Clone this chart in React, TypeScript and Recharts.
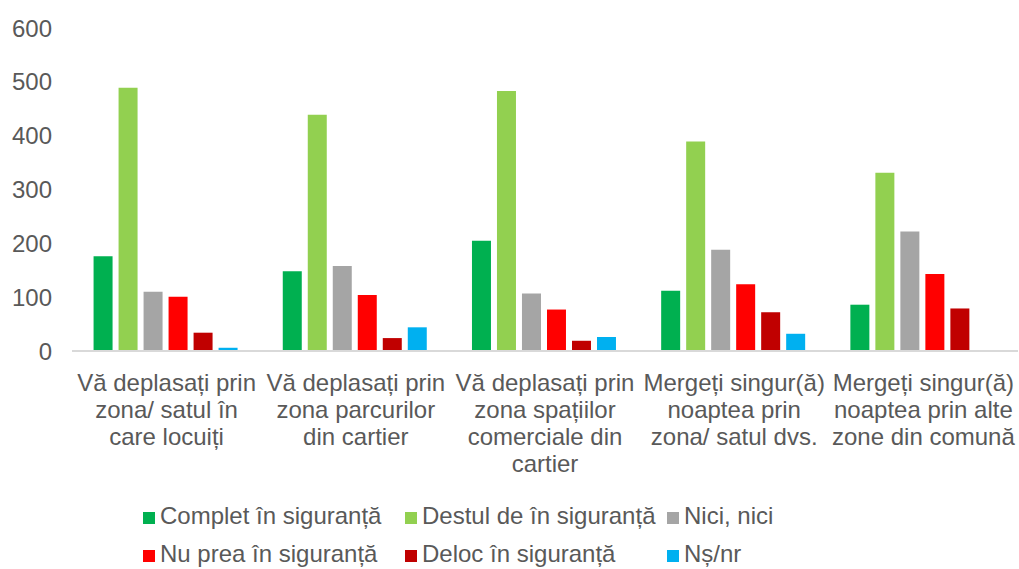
import { BarChart, Bar, XAxis, YAxis, Legend } from 'recharts'

/* ─── data ─── */
const categories = [
  'Vă deplasați prin\nzona/ satul în\ncare locuiți',
  'Vă deplasați prin\nzona parcurilor\ndin cartier',
  'Vă deplasați prin\nzona spațiilor\ncomerciale din\ncartier',
  'Mergeți singur(ă)\nnoaptea prin\nzona/ satul dvs.',
  'Mergeți singur(ă)\nnoaptea prin alte\nzone din comună',
]

const seriesNames = [
  'Complet în siguranță',
  'Destul de în siguranță',
  'Nici, nici',
  'Nu prea în siguranță',
  'Deloc în siguranță',
  'Nș/nr',
]

const complet = [176, 148, 205, 112, 86]
const destul = [489, 439, 483, 389, 331]
const nici = [110, 158, 107, 188, 222]
const nuPrea = [101, 104, 77, 124, 143]
const deloc = [34, 24, 19, 72, 79]
const nsnr = [6, 44, 26, 32, 0]

const yTicks = [0, 100, 200, 300, 400, 500, 600]

const COLORS = ['#00B050', '#92D050', '#A5A5A5', '#FF0000', '#C00000', '#00B0F0']
const KEYS = ['s0', 's1', 's2', 's3', 's4', 's5']

const data = categories.map((name, i) => ({
  name,
  s0: complet[i],
  s1: destul[i],
  s2: nici[i],
  s3: nuPrea[i],
  s4: deloc[i],
  s5: nsnr[i],
}))

const FONT = '"Liberation Sans", Arial, sans-serif'
const TEXT = '#595959'

/* ─── multi-line category tick ─── */
function CategoryTick({ x, y, payload }: any) {
  const lines = String(payload.value).split('\n')
  return (
    <text x={x} y={y} textAnchor="middle" fill={TEXT} fontSize={24} fontFamily={FONT}>
      {lines.map((line, i) => (
        <tspan key={i} x={x} dy={i === 0 ? 38 : 27}>{line}</tspan>
      ))}
    </text>
  )
}

/* ─── legend: 3 fixed columns ─── */
function LegendGrid() {
  return (
    <div style={{ width: 1019, height: 72, position: 'relative', fontFamily: FONT, fontSize: 24, color: TEXT }}>
      {seriesNames.map((n, i) => {
        const col = i % 3
        const row = Math.floor(i / 3)
        return (
          <div
            key={n}
            style={{
              position: 'absolute',
              left: 143 + col * 262,
              top: row * 38,
              height: 38,
              display: 'flex',
              alignItems: 'center',
              whiteSpace: 'nowrap',
            }}
          >
            <span style={{ display: 'inline-block', width: 12, height: 12, background: COLORS[i], marginRight: 5, marginTop: 4 }} />
            <span>{n}</span>
          </div>
        )
      })}
    </div>
  )
}

export default function App() {
  return (
    <div style={{ position: 'absolute', left: 0, top: 0, width: 1019, height: 569, background: '#fff' }}>
      <BarChart
        width={1019}
        height={569}
        data={data}
        margin={{ top: 28, right: 1, left: 0, bottom: 0 }}
        barCategoryGap="11.4%"
        barGap={6}
      >
        <XAxis
          dataKey="name"
          tick={<CategoryTick />}
          tickLine={false}
          tickSize={0}
          axisLine={{ stroke: '#D9D9D9', strokeWidth: 2 }}
          height={146}
          interval={0}
        />
        <YAxis
          domain={[0, 600]}
          ticks={yTicks}
          width={72}
          tickLine={false}
          axisLine={false}
          tickSize={0}
          tickMargin={20}
          tick={{ fontSize: 24, fill: TEXT, fontFamily: FONT }}
        />
        <Legend
          verticalAlign="bottom"
          content={() => <LegendGrid />}
          wrapperStyle={{ left: 0, width: 1019, height: 72 }}
        />
        {KEYS.map((k, i) => (
          <Bar key={k} dataKey={k} name={seriesNames[i]} fill={COLORS[i]} isAnimationActive={false} />
        ))}
      </BarChart>
    </div>
  )
}
